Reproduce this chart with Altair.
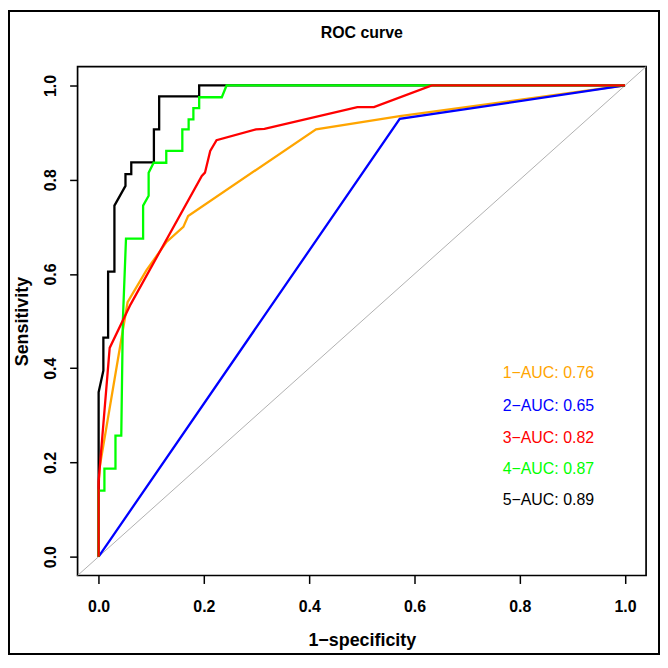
import altair as alt
import pandas as pd

# ROC curve points (1-specificity, sensitivity)
x1 = [0.0, 0.0, 0.002, 0.055, 0.091, 0.129, 0.161, 0.170, 0.413, 0.572, 1.0]
y1 = [0.0, 0.15, 0.19, 0.54, 0.608, 0.668, 0.700, 0.723, 0.907, 0.935, 1.0]

x2 = [0.0, 0.572, 1.0]
y2 = [0.0, 0.929, 1.0]

x3 = [0.0, 0.0, 0.021, 0.0605, 0.196, 0.202, 0.212, 0.224, 0.299, 0.315, 0.4915, 0.523, 0.633, 1.0]
y3 = [0.0, 0.16, 0.443, 0.535, 0.808, 0.815, 0.861, 0.884, 0.907, 0.908, 0.954, 0.954, 1.0, 1.0]

x4 = [0.0, 0.0, 0.011, 0.011, 0.032, 0.032, 0.043, 0.046, 0.052, 0.0845, 0.0845, 0.095, 0.095,
      0.1045, 0.1285, 0.1285, 0.159, 0.159, 0.171, 0.171, 0.180, 0.180, 0.191, 0.191, 0.234, 0.243, 1.0]
y4 = [0.0, 0.14, 0.14, 0.187, 0.187, 0.257, 0.257, 0.50, 0.675, 0.675, 0.745, 0.766, 0.815,
      0.836, 0.836, 0.861, 0.861, 0.907, 0.907, 0.928, 0.928, 0.952, 0.952, 0.975, 0.975, 1.0, 1.0]

x5 = [0.0, 0.0, 0.009, 0.009, 0.018, 0.018, 0.030, 0.030, 0.051, 0.051, 0.062, 0.062, 0.105,
      0.105, 0.115, 0.115, 0.191, 0.191, 1.0]
y5 = [0.0, 0.349, 0.395, 0.465, 0.465, 0.605, 0.605, 0.745, 0.787, 0.812, 0.812, 0.837, 0.837,
      0.907, 0.907, 0.977, 0.977, 1.0, 1.0]

curve_names = ["1", "2", "3", "4", "5"]
curve_colors = ["#FFA500", "#0000FF", "#FF0000", "#00FF00", "#000000"]
auc_labels = ["1\u2212AUC: 0.76", "2\u2212AUC: 0.65", "3\u2212AUC: 0.82", "4\u2212AUC: 0.87", "5\u2212AUC: 0.89"]
label_x = [0.7675, 0.7675, 0.7675, 0.7675, 0.7675]
label_y = [0.389, 0.319, 0.252, 0.187, 0.121]

title_text = ["ROC curve"]
diag_vals = [-0.04, 1.04]
tick_vals = [0.0, 0.2, 0.4, 0.6, 0.8, 1.0]

FONT = "Liberation Sans"
W, H = 572, 512

xs = [x1, x2, x3, x4, x5]
ys = [y1, y2, y3, y4, y5]

xscale = alt.Scale(domain=[-0.04, 1.04], nice=False, zero=False)
yscale = alt.Scale(domain=[-0.04, 1.04], nice=False, zero=False)

x_axis = alt.Axis(
    values=tick_vals, format=".1f", grid=False, domain=False,
    tickSize=8, tickColor="black", tickWidth=1.5,
    labelFont=FONT, labelFontSize=16, labelFontWeight="bold", labelColor="black",
    labelBaseline="alphabetic", labelPadding=28, labelFlush=False,
    title="1\u2212specificity", titleFont=FONT, titleFontSize=18, titleFontWeight="bold",
    titleColor="black", titleBaseline="alphabetic", titleX=W / 2, titleY=70,
    titleAnchor="middle",
)
y_axis = alt.Axis(
    values=tick_vals, format=".1f", grid=False, domain=False,
    tickSize=8, tickColor="black", tickWidth=1.5,
    labelFont=FONT, labelFontSize=16, labelFontWeight="bold", labelColor="black",
    labelAngle=-90, labelAlign="center", labelBaseline="alphabetic", labelPadding=14,
    labelFlush=False,
    title="Sensitivity", titleFont=FONT, titleFontSize=18, titleFontWeight="bold",
    titleColor="black", titleBaseline="alphabetic", titleAngle=-90, titleAlign="center",
    titleX=-50, titleY=H / 2,
)

diag_df = pd.DataFrame({"fpr": diag_vals, "tpr": diag_vals})
diag = alt.Chart(diag_df).mark_line(color="#b0b0b0", strokeWidth=1).encode(
    x=alt.X("fpr:Q", scale=xscale, axis=x_axis),
    y=alt.Y("tpr:Q", scale=yscale, axis=y_axis),
)

layers = [diag]
draw_order = [0, 1, 4, 3, 2]
for k in draw_order:
    df = pd.DataFrame({"fpr": xs[k], "tpr": ys[k], "i": list(range(len(xs[k])))})
    layers.append(
        alt.Chart(df).mark_line(color=curve_colors[k], strokeWidth=2.3).encode(
            x=alt.X("fpr:Q", scale=xscale),
            y=alt.Y("tpr:Q", scale=yscale),
            order=alt.Order("i:Q"),
        )
    )

legend_df = pd.DataFrame({"x": label_x, "y": label_y, "label": auc_labels, "color": curve_colors})
legend = alt.Chart(legend_df).mark_text(
    align="left", baseline="middle", font=FONT, fontSize=16
).encode(
    x=alt.X("x:Q", scale=xscale),
    y=alt.Y("y:Q", scale=yscale),
    text="label:N",
    color=alt.Color("color:N", scale=None),
)
layers.append(legend)

title = alt.Chart(pd.DataFrame({"t": title_text})).mark_text(
    align="center", baseline="alphabetic", font=FONT, fontSize=16, fontWeight="bold", color="black"
).encode(x=alt.value(W / 2), y=alt.value(-29), text="t:N")
layers.append(title)

frame = alt.Chart(pd.DataFrame({"a": [0]})).mark_rect(
    fillOpacity=0, stroke="black", strokeWidth=2
).encode(
    x=alt.value(-69), x2=alt.value(W + 13), y=alt.value(-56), y2=alt.value(H + 79)
)
layers.append(frame)

chart = alt.layer(*layers).properties(
    width=W, height=H,
    autosize=alt.AutoSizeParams(type="none"),
    padding={"left": 70, "top": 57, "right": 14, "bottom": 80},
    background="white",
).configure_view(stroke="black", strokeWidth=1.7)

chart.save("out.html", embed_options={"renderer": "svg", "actions": False})
